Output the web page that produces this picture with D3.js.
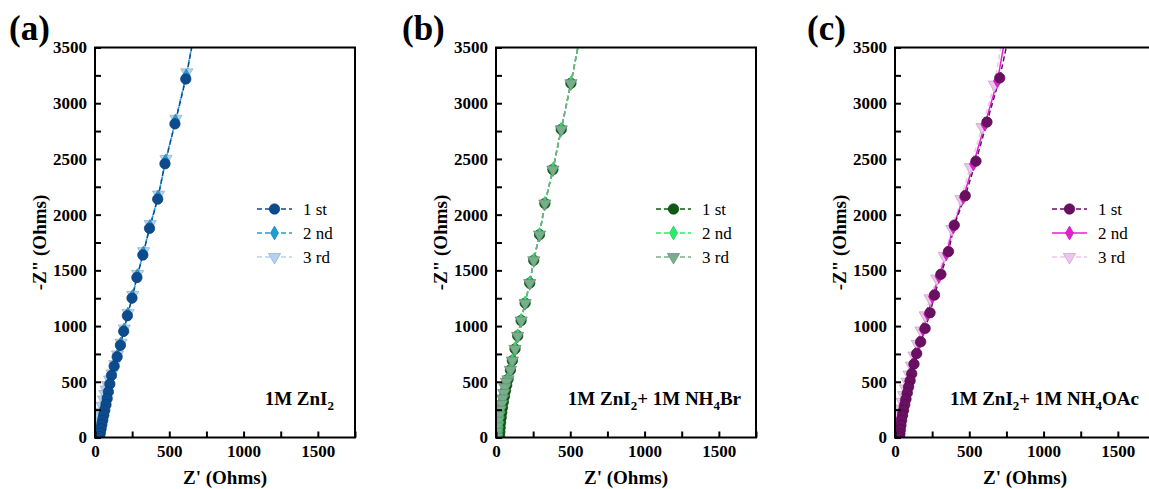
<!DOCTYPE html>
<html>
<head>
<meta charset="utf-8" />
<script src="https://cdnjs.cloudflare.com/ajax/libs/d3/7.8.5/d3.min.js"></script>
<style>
  body { margin: 0; background: white; }
  svg { display: block; font-family: "Liberation Serif", "Times New Roman", serif; }
</style>
</head>
<body>
<div id="chart"></div>
<script>
// Z' (x) and -Z'' (y) readings, Ohms
var panelA1 = [[662,3580],[611,3217],[538,2815],[471,2457],[422,2139],[367,1877],[322,1638],[282,1436],[249,1251],[218,1093],[193,953],[171,828],[149,724],[129,640],[111,557],[100,480],[90,410],[82,350],[74,295],[66,245],[59,200],[52,155],[46,115],[41,78],[36,42],[32,8]];
var panelA2 = [[664,3600],[614,3245],[541,2840],[474,2480],[425,2160],[370,1895],[325,1655],[285,1452],[252,1265],[221,1106],[196,965],[173,840],[151,735],[131,650],[113,566],[99,490],[88,425],[78,370],[69,318],[60,270],[52,225],[45,182],[38,140],[33,100],[28,62],[25,25],[23,2]];
var panelA3 = [[666,3620],[618,3277],[545,2860],[478,2500],[428,2180],[372,1915],[327,1672],[287,1468],[254,1280],[223,1118],[197,978],[175,850],[152,745],[133,658],[115,575],[98,520],[85,470],[75,430],[66,390],[57,340],[47,285],[37,230],[28,180],[20,135],[14,95],[10,60],[8,30],[7,5]];

var panelB1 = [[560,3560],[504,3179],[439,2765],[383,2405],[329,2100],[293,1821],[254,1590],[227,1386],[196,1206],[169,1050],[146,912],[128,795],[110,690],[97,606],[81,522],[72,470],[64,420],[57,370],[50,320],[44,270],[39,225],[35,180],[31,135],[28,90],[26,50],[25,10]];
var panelB2 = [[560,3560],[504,3180],[439,2766],[383,2406],[329,2101],[293,1822],[254,1591],[227,1387],[196,1207],[169,1051],[146,913],[128,796],[110,691],[97,607],[81,523],[70,475],[61,425],[53,375],[46,325],[39,275],[33,228],[28,182],[24,138],[21,95],[19,55],[18,12]];
var panelB3 = [[560,3560],[504,3179],[439,2765],[383,2405],[329,2100],[293,1821],[254,1590],[227,1386],[196,1206],[169,1050],[146,912],[128,795],[110,690],[97,606],[81,522],[70,500],[60,450],[52,400],[44,350],[36,300],[28,250],[20,200],[14,150],[10,100],[7,50],[6,5]];

var panelC1 = [[758,3560],[705,3227],[619,2831],[545,2480],[473,2170],[399,1906],[360,1669],[309,1465],[266,1279],[236,1120],[203,979],[173,859],[146,754],[128,660],[113,573],[102,510],[92,455],[83,400],[74,345],[66,295],[58,245],[51,200],[45,155],[40,110],[36,70],[33,35],[31,5]];
var panelC2 = [[740,3580],[690,3200],[605,2810],[528,2455],[460,2155],[392,1888],[346,1650],[296,1446],[252,1264],[220,1108],[189,970],[162,850],[137,745],[119,652],[104,569],[92,505],[81,448],[71,390],[61,333],[52,278],[43,225],[35,175],[28,125],[22,80],[18,40],[15,5]];
var panelC3 = [[722,3580],[669,3167],[586,2786],[507,2426],[444,2140],[383,1870],[331,1630],[282,1426],[236,1249],[203,1096],[175,960],[150,840],[128,735],[110,645],[95,565],[82,500],[70,440],[58,380],[47,320],[36,260],[26,200],[18,150],[12,100],[8,55],[6,10]];

var seriesNames = ["1 st", "2 nd", "3 rd"];
var xTicks = [0, 250, 500, 750, 1000, 1250, 1500, 1750];
var yTicks = [0, 250, 500, 750, 1000, 1250, 1500, 1750, 2000, 2250, 2500, 2750, 3000, 3250, 3500];

var panels = [
  { id: "a", left: 95, label: "(a)", labelX: 9, titleX: 46, legX: 162,
    note: [["1M ZnI", 0], ["2", 1]], noteRight: 334,
    series: [panelA1, panelA2, panelA3],
    colors: ["#0c4c8e", "#1c9fd8", "#b3d3f3"],
    dash: ["5,3", "5,3", "5,3"], order: [2, 1, 0] },
  { id: "b", left: 496, label: "(b)", labelX: 402, titleX: 447, legX: 160,
    note: [["1M ZnI", 0], ["2", 1], ["+ 1M NH", 0], ["4", 1], ["Br", 0]], noteRight: 741,
    series: [panelB1, panelB2, panelB3],
    colors: ["#0d5a14", "#25ee68", "#78ae8c"],
    dash: ["5,3", "5,3", "5,3"], order: [0, 1, 2] },
  { id: "c", left: 895, label: "(c)", labelX: 807, titleX: 846, legX: 157,
    note: [["1M ZnI", 0], ["2", 1], ["+ 1M NH", 0], ["4", 1], ["OAc", 0]], noteRight: 1139,
    series: [panelC1, panelC2, panelC3],
    colors: ["#6a1062", "#e41fd6", "#eec6ec"],
    dash: ["5,3", null, "5,3"], order: [2, 1, 0] }
];

var w = 260, h = 390, marginTop = 47.5;
var serif = "Liberation Serif";

var svg = d3.select("#chart").append("svg")
  .attr("width", 1149)
  .attr("height", 489);

var symbols = [d3.symbolCircle, d3.symbolDiamond, d3.symbolTriangle];
var symSize = [85, 55, 65];

function marker(g, k, color, x, y) {
  var m = g.append("path")
    .attr("d", d3.symbol().type(symbols[k]).size(symSize[k])())
    .attr("fill", color)
    .attr("stroke", d3.color(color).darker(0.6))
    .attr("stroke-width", 0.7);
  if (k == 2) m.attr("transform", "translate(" + x + "," + y + ") rotate(180)");
  else m.attr("transform", "translate(" + x + "," + y + ")");
  return m;
}

panels.forEach(function (p) {
  var xScale = d3.scaleLinear().domain([0, 1750]).range([0, w]);
  var yScale = d3.scaleLinear().domain([0, 3500]).range([h, 0]);

  var g = svg.append("g").attr("transform", "translate(" + p.left + "," + marginTop + ")");

  g.append("clipPath").attr("id", "clip-" + p.id)
    .append("rect").attr("width", w).attr("height", h);

  var plot = g.append("g").attr("clip-path", "url(#clip-" + p.id + ")");

  var line = d3.line()
    .x(function (d) { return xScale(d[0]); })
    .y(function (d) { return yScale(d[1]); });

  p.order.forEach(function (k) {
    plot.append("path")
      .datum(p.series[k])
      .attr("d", line)
      .attr("fill", "none")
      .attr("stroke", p.colors[k])
      .attr("stroke-width", 1.5)
      .attr("stroke-dasharray", p.dash[k]);
  });
  p.order.forEach(function (k) {
    p.series[k].forEach(function (d) {
      marker(plot, k, p.colors[k], xScale(d[0]), yScale(d[1]));
    });
  });

  var xAxis = d3.axisBottom(xScale)
    .tickValues(xTicks)
    .tickSize(-6)
    .tickPadding(7)
    .tickFormat(function (d) { return d % 500 == 0 && d < 1750 ? d : ""; });
  var yAxis = d3.axisLeft(yScale)
    .tickValues(yTicks)
    .tickSize(-6)
    .tickPadding(8)
    .tickFormat(function (d) { return d % 500 == 0 ? d : ""; });

  var gx = g.append("g").attr("transform", "translate(0," + h + ")").call(xAxis);
  var gy = g.append("g").call(yAxis);
  [gx, gy].forEach(function (a) {
    a.attr("font-family", serif);
    a.select(".domain").remove();
    a.selectAll("line").attr("stroke", "black").attr("stroke-width", 2);
    a.selectAll("text").attr("fill", "black")
      .style("font-family", serif).style("font-size", "17px").style("font-weight", "bold");
  });

  g.append("rect").attr("width", w).attr("height", h)
    .attr("fill", "none").attr("stroke", "black").attr("stroke-width", 2);

  // legend
  seriesNames.forEach(function (name, k) {
    var ly = 209 - marginTop + k * 24;
    g.append("line")
      .attr("x1", p.legX).attr("x2", p.legX + 35)
      .attr("y1", ly).attr("y2", ly)
      .attr("stroke", p.colors[k]).attr("stroke-width", 1.5)
      .attr("stroke-dasharray", p.dash[k]);
    marker(g, k, p.colors[k], p.legX + 17.5, ly);
    g.append("text")
      .attr("x", p.legX + 46).attr("y", ly + 5.5)
      .style("font-family", serif).style("font-size", "17px")
      .text(name);
  });

  // axis titles
  g.append("text")
    .attr("x", w / 2).attr("y", 484 - marginTop)
    .attr("text-anchor", "middle")
    .style("font-family", serif).style("font-size", "19px").style("font-weight", "bold")
    .text("Z' (Ohms)");

  svg.append("text")
    .attr("transform", "translate(" + p.titleX + "," + (marginTop + h / 2) + ") rotate(-90)")
    .attr("text-anchor", "middle")
    .style("font-family", serif).style("font-size", "19px").style("font-weight", "bold")
    .text("-Z\" (Ohms)");

  svg.append("text")
    .attr("x", p.labelX).attr("y", 40)
    .style("font-family", serif).style("font-size", "35px").style("font-weight", "bold")
    .text(p.label);

  var note = svg.append("text")
    .attr("x", p.noteRight).attr("y", 405)
    .attr("text-anchor", "end")
    .style("font-family", serif).style("font-size", "19px").style("font-weight", "bold");
  p.note.forEach(function (part, i) {
    var t = note.append("tspan").text(part[0]);
    if (part[1]) t.attr("dy", 5).style("font-size", "13px");
    else if (i > 0 && p.note[i - 1][1]) t.attr("dy", -5);
  });
});
</script>
</body>
</html>
